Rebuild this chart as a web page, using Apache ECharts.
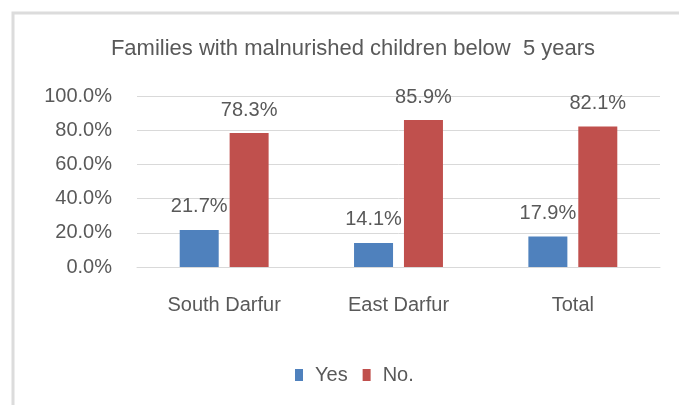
<!DOCTYPE html>
<html>
<head>
<meta charset="utf-8">
<script src="https://cdn.jsdelivr.net/npm/echarts@6/dist/echarts.min.js"></script>
<style>
  html, body { margin: 0; padding: 0; background: #ffffff; }
  #chart { width: 679px; height: 405px; }
</style>
</head>
<body>
<div id="chart"></div>
<script>
// Share of families with malnourished children under five, by state
const titleText = 'Families with malnurished children below  5 years';
const categories = ['South Darfur', 'East Darfur', 'Total'];
const seriesNames = ['Yes', 'No.'];
const yesValues = [21.7, 14.1, 17.9];
const noValues = [78.3, 85.9, 82.1];
const yTicks = { min: 0, max: 100, interval: 20 };

const FONT = 'Liberation Sans, Arial, sans-serif';
const TEXT = '#595959';
const GRID_LINE = '#d9d9d9';

const chart = echarts.init(document.getElementById('chart'), null, { renderer: 'canvas' });

const pctLabel = {
  show: true,
  position: 'top',
  distance: 13,
  color: TEXT,
  fontFamily: FONT,
  fontSize: 20,
  formatter: p => p.value.toFixed(1) + '%'
};

chart.setOption({
  backgroundColor: '#ffffff',
  animation: false,
  graphic: [{
    type: 'rect',
    shape: { x: 13, y: 13, width: 720, height: 440 },
    style: { fill: 'none', stroke: '#dcdcdc', lineWidth: 3 },
    z: 0
  }],
  title: {
    text: titleText,
    left: 348,
    top: 33,
    textAlign: 'center',
    textStyle: { color: TEXT, fontFamily: FONT, fontSize: 22, fontWeight: 'normal' }
  },
  legend: {
    data: seriesNames,
    left: 295,
    top: 365,
    padding: 0,
    icon: 'rect',
    itemWidth: 8,
    itemHeight: 12,
    itemGap: 15,
    textStyle: { color: TEXT, fontFamily: FONT, fontSize: 20, padding: [0, 0, 0, 7] }
  },
  grid: { left: 137, right: 19, top: 96, bottom: 138 },
  xAxis: {
    type: 'category',
    data: categories,
    axisTick: { show: false },
    axisLine: { lineStyle: { color: GRID_LINE, width: 1 } },
    axisLabel: { color: TEXT, fontFamily: FONT, fontSize: 20, margin: 28 }
  },
  yAxis: {
    type: 'value',
    min: yTicks.min,
    max: yTicks.max,
    interval: yTicks.interval,
    axisLine: { show: false },
    axisTick: { show: false },
    splitLine: { lineStyle: { color: GRID_LINE, width: 1 } },
    axisLabel: {
      color: TEXT, fontFamily: FONT, fontSize: 20, margin: 25,
      formatter: v => v.toFixed(1) + '%'
    }
  },
  series: [
    {
      name: seriesNames[0],
      type: 'bar',
      data: yesValues,
      barWidth: 39,
      barGap: '28%',
      itemStyle: { color: '#4f81bd' },
      label: pctLabel
    },
    {
      name: seriesNames[1],
      type: 'bar',
      data: noValues,
      barWidth: 39,
      barGap: '28%',
      itemStyle: { color: '#c0504d' },
      label: pctLabel
    }
  ]
});
</script>
</body>
</html>
